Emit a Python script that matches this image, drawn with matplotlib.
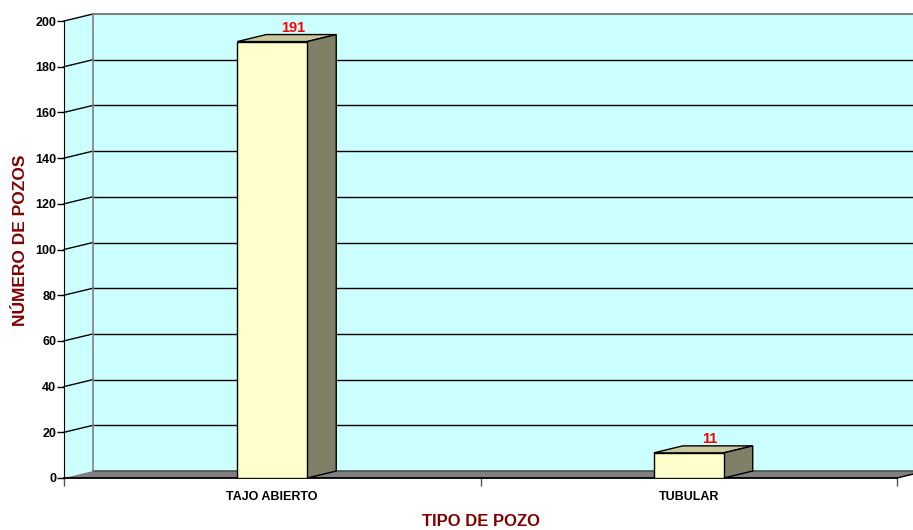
import matplotlib
matplotlib.use('Agg')
import matplotlib.pyplot as plt
from matplotlib.patches import Polygon
from matplotlib.lines import Line2D
from matplotlib.transforms import IdentityTransform
import numpy as np

categories = ['TAJO ABIERTO', 'TUBULAR']
values = [191, 11]
y_ticks = [0, 20, 40, 60, 80, 100, 120, 140, 160, 180, 200]

plt.rcParams['font.family'] = ['Liberation Sans', 'DejaVu Sans']

W, H = 913, 530
fig = plt.figure(figsize=(W / 100, H / 100), dpi=100)
ax = fig.add_axes([64 / W, (H - 478) / H, (897 - 64) / W, (478 - 21) / H])
xpos = np.arange(len(categories))
ax.set_xlim(-0.5, len(categories) - 0.5)
ax.set_ylim(0, 200)
ax.patch.set_visible(False)

DX, DY = 29, 7
ID = IdentityTransform()


def front(x, y):
    return np.array(ax.transData.transform((x, y)))


def back(x, y):
    return front(x, y) + np.array([DX, DY])


def poly(pts, fc, ec='none', lw=0.0, z=1):
    p = Polygon(pts, closed=True, facecolor=fc, edgecolor=ec, lw=lw,
                transform=ID, clip_on=False, zorder=z)
    ax.add_patch(p)


def line(p0, p1, color='black', lw=1.0, z=2):
    l = Line2D([p0[0], p1[0]], [p0[1], p1[1]], color=color, lw=lw,
               transform=ID, clip_on=False, zorder=z)
    ax.add_line(l)


x0, x1 = -0.5, len(categories) - 0.5
ymax = y_ticks[-1]
wall = '#CCFFFF'
# side wall and back wall
poly([front(x0, 0), back(x0, 0), back(x0, ymax), front(x0, ymax)], wall, z=0.5)
poly([back(x0, 0), back(x1, 0), back(x1, ymax), back(x0, ymax)], wall, z=0.5)
# floor
poly([front(x0, 0), front(x1, 0), back(x1, 0), back(x0, 0)], '#808080', z=0.8)
line(back(x0, 0), back(x1, 0), color='#505050', lw=1.2, z=0.9)

# gridlines
for v in y_ticks[1:-1]:
    line(front(x0, v), back(x0, v), 'black', 1.0, 1)
    line(back(x0, v), back(x1, v), 'black', 1.0, 1)
line(front(x0, ymax), back(x0, ymax), 'black', 1.0, 1)
line(back(x0, ymax), back(x1, ymax), '#808080', 1.5, 1)
line(back(x0, 0), back(x0, ymax), '#808080', 1.2, 1)
line(front(x1, 0), back(x1, 0), 'black', 1.0, 1)

# bars
bw = 0.168
ax.bar(xpos, values, width=bw, color='#FFFFCC', edgecolor='black', lw=1.0, zorder=5)
for x, v in zip(xpos, values):
    l, r = x - bw / 2, x + bw / 2
    poly([front(l, v), front(r, v), back(r, v), back(l, v)], '#C8C89C', 'black', 1.0, 4)
    poly([front(r, 0), back(r, 0), back(r, v), front(r, v)], '#808068', 'black', 1.0, 4)
    ax.annotate(str(v), xy=(x, v), xytext=(21, 7), textcoords='offset pixels',
                ha='center', va='bottom', color='#FF0000', fontsize=10.5,
                fontweight='bold', zorder=6, annotation_clip=False)

# axes styling
for s in ['top', 'right']:
    ax.spines[s].set_visible(False)
ax.spines['left'].set_color('black')
ax.spines['bottom'].set_color('black')
ax.spines['bottom'].set_linewidth(1.3)
ax.spines['left'].set_zorder(3)
ax.spines['bottom'].set_zorder(3)
ax.set_yticks(y_ticks)
ax.set_yticklabels([str(t) for t in y_ticks], fontsize=9, fontweight='bold')
ax.tick_params(axis='y', length=5, width=1, pad=0.5, direction='out')
ax.set_xticks(xpos)
ax.set_xticklabels(categories, fontsize=9, fontweight='bold')
ax.set_xticks(np.arange(x0, x1 + 0.01, 1.0), minor=True)
ax.tick_params(axis='x', which='major', length=0, pad=9)
ax.tick_params(axis='x', which='minor', length=6, width=1, color='#555555')

ax.set_xlabel('TIPO DE POZO', fontsize=12, fontweight='bold', color='#800000', labelpad=8)
ax.set_ylabel('NÚMERO DE POZOS', fontsize=12.5, fontweight='bold', color='#800000', labelpad=5)
ax.yaxis.label.set_y(0.52)

fig.savefig('out.png', dpi=100)
